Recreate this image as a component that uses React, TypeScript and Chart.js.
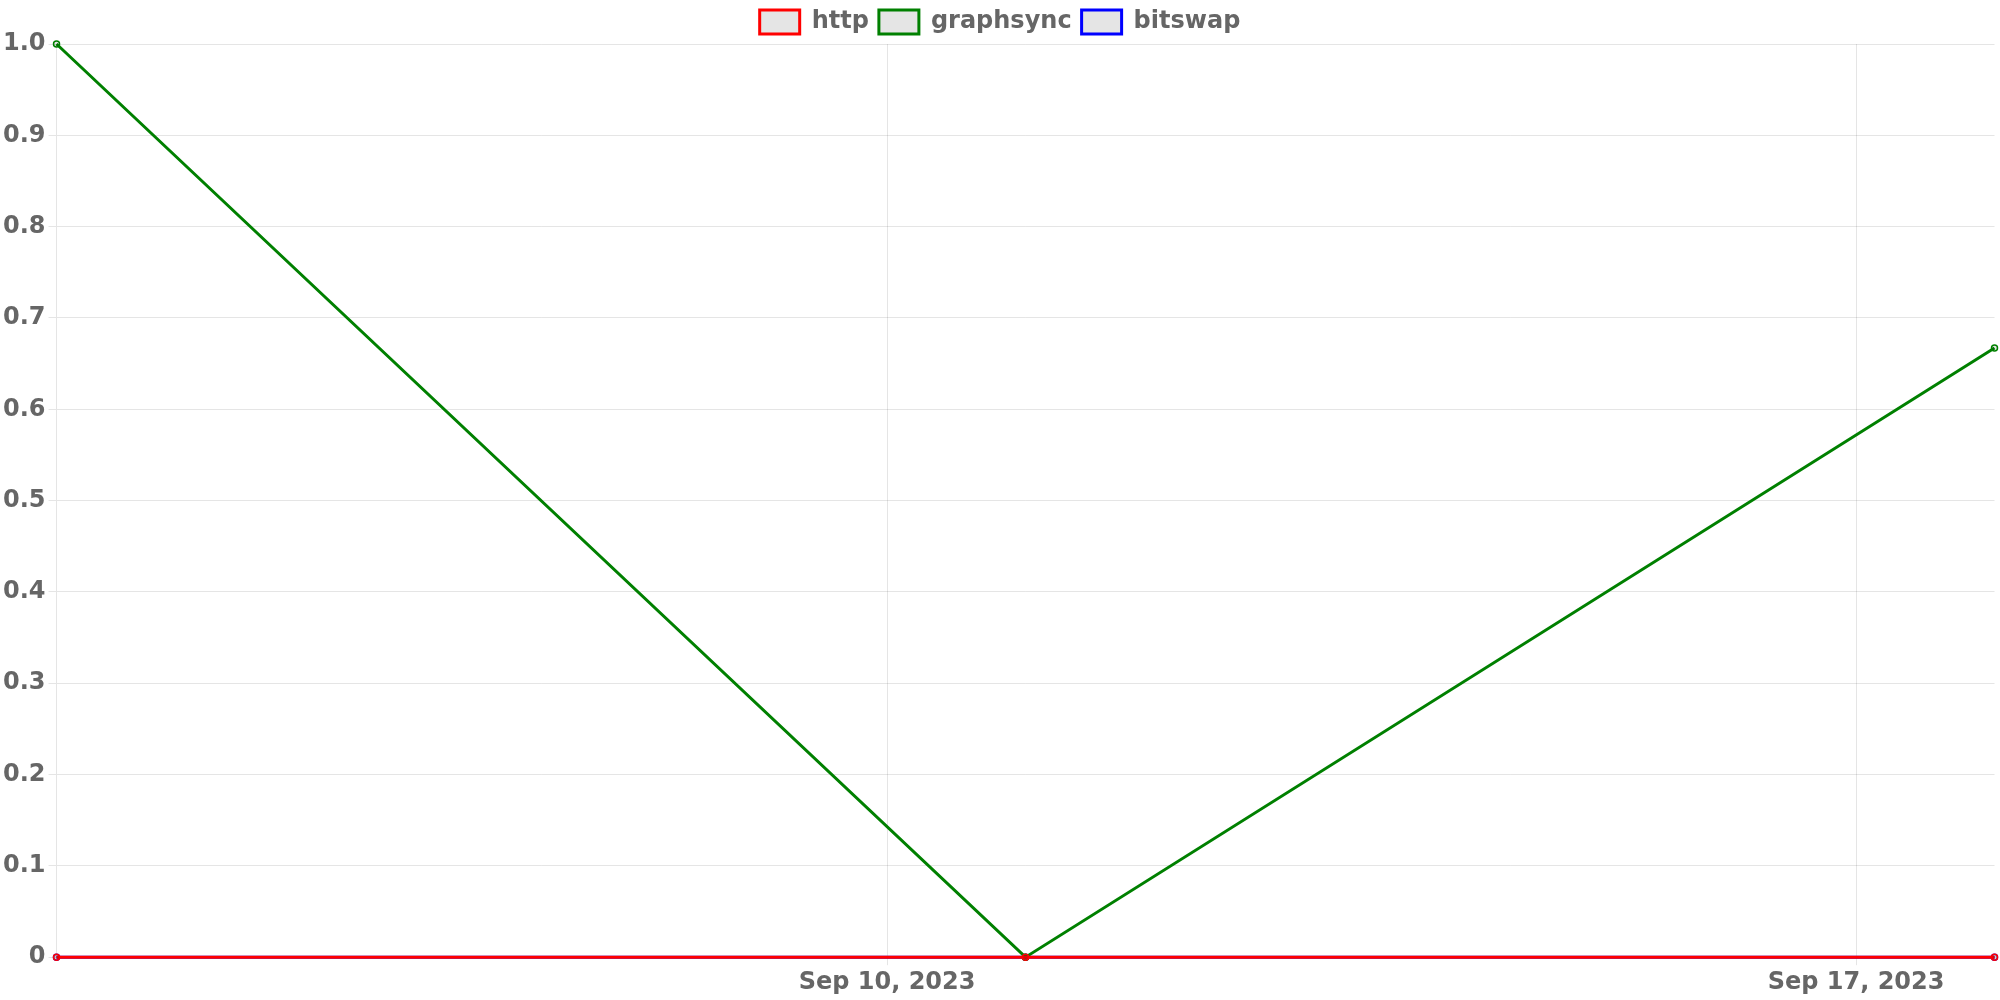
import React, { useEffect, useRef } from "react";
import { Chart, registerables } from "chart.js";

Chart.register(...registerables);

const dateLabels = ["2023-09-04", "2023-09-11", "2023-09-18"];
const httpValues = [0, 0, 0];
const graphsyncValues = [1.0, 0, 0.667];
const bitswapValues = [0, 0, 0];
const xTickDates = ["2023-09-10", "2023-09-17"];
const seriesNames = ["http", "graphsync", "bitswap"];
const seriesColors = ["red", "green", "blue"];

const MONTHS = ["Jan", "Feb", "Mar", "Apr", "May", "Jun", "Jul", "Aug", "Sep", "Oct", "Nov", "Dec"];
const toTs = (s: string) => {
  const [y, m, d] = s.split("-").map(Number);
  return Date.UTC(y, m - 1, d);
};
const fmt = (ts: number) => {
  const d = new Date(ts);
  return `${MONTHS[d.getUTCMonth()]} ${d.getUTCDate()}, ${d.getUTCFullYear()}`;
};

export default function App() {
  const ref = useRef<HTMLCanvasElement | null>(null);
  useEffect(() => {
    if (!ref.current) return;
    const xs = dateLabels.map(toTs);
    const allSeries = [httpValues, graphsyncValues, bitswapValues];
    const font = { family: "'DejaVu Sans', sans-serif", size: 24, weight: "bold" as const };
    const chart = new Chart(ref.current, {
      type: "line",
      data: {
        datasets: allSeries.map((vals, i) => ({
          label: seriesNames[i],
          data: vals.map((v, j) => ({ x: xs[j], y: v })),
          borderColor: seriesColors[i],
          backgroundColor: "rgba(0,0,0,0.1)",
          borderWidth: 3,
          pointRadius: 3,
          pointBorderWidth: 1.5,
          tension: 0,
          clip: false,
        })),
      },
      options: {
        responsive: false,
        animation: false,
        color: "#666",
        plugins: {
          legend: {
            position: "top",
            labels: { font, color: "#666", boxWidth: 40, boxHeight: 24, padding: 10 },
          },
          tooltip: { enabled: false },
        },
        scales: {
          x: {
            type: "linear",
            min: xs[0],
            max: xs[xs.length - 1],
            afterBuildTicks: (axis: any) => {
              axis.ticks = xTickDates.map((s) => ({ value: toTs(s) }));
            },
            ticks: {
              font,
              color: "#666",
              maxRotation: 0,
              autoSkip: false,
              callback: (v: any) => fmt(Number(v)),
            },
            grid: { color: "rgba(0,0,0,0.1)" },
          },
          y: {
            min: 0,
            max: 1,
            ticks: {
              stepSize: 0.1,
              font,
              color: "#666",
              callback: (v: any) => (Number(v) === 0 ? "0" : Number(v).toFixed(1)),
            },
            grid: { color: "rgba(0,0,0,0.1)" },
          },
        },
      },
    });
    return () => chart.destroy();
  }, []);
  return (
    <div style={{ position: "fixed", left: 0, top: 0, width: 2000, height: 1000, background: "#fff" }}>
      <canvas ref={ref} width={2000} height={1000} style={{ display: "block" }} />
    </div>
  );
}
